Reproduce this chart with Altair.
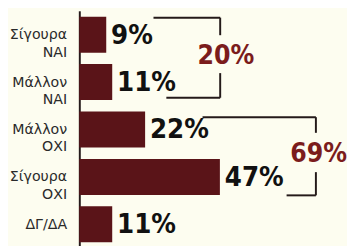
import altair as alt
import pandas as pd

# ---- data ----
categories = ["Σίγουρα ΝΑΙ", "Μάλλον ΝΑΙ", "Μάλλον ΟΧΙ", "Σίγουρα ΟΧΙ", "ΔΓ/ΔΑ"]
values = [9, 11, 22, 47, 11]
value_labels = ["9%", "11%", "22%", "47%", "11%"]

bracket_labels = ["20%", "69%"]
bracket_x = [47.1, 79.1]
bracket_label_x = [49.0, 80.0]
bracket_top = [-0.36, 1.74]
bracket_bottom = [1.33, 3.39]
bracket_top_from = [24.8, 41.2]
bracket_bottom_from = [29.1, 69.3]
bracket_label_y = [0.46, 2.53]
bracket_gap_top = [0.01, 2.07]
bracket_gap_bottom = [0.81, 2.90]

BAR_HALF = 0.38
BG = "#fdfdf0"
BAR = "#5a1418"
RED = "#7b1c1c"
INK = "#241a1a"
LABEL_FONT = "DejaVu Sans Condensed, Roboto Condensed, Roboto, sans-serif"

idx = list(range(len(categories)))
bars = pd.DataFrame({
    "idx": idx,
    "cat": categories,
    "value": values,
    "label": value_labels,
    "y1": [i - BAR_HALF for i in idx],
    "y2": [i + BAR_HALF for i in idx],
})

segs = []
for k in range(len(bracket_labels)):
    bx = bracket_x[k]
    segs.append({"x": bracket_top_from[k], "x2": bx, "y": bracket_top[k], "y2": bracket_top[k]})
    segs.append({"x": bracket_bottom_from[k], "x2": bx, "y": bracket_bottom[k], "y2": bracket_bottom[k]})
    segs.append({"x": bx, "x2": bx, "y": bracket_top[k], "y2": bracket_gap_top[k]})
    segs.append({"x": bx, "x2": bx, "y": bracket_gap_bottom[k], "y2": bracket_bottom[k]})
segs = pd.DataFrame(segs)

blabels = pd.DataFrame({"x": bracket_label_x, "y": bracket_label_y, "label": bracket_labels})

xscale = alt.Scale(domain=[0, 89.5], nice=False, zero=True)
yscale = alt.Scale(domain=[-0.505, 4.505], nice=False, zero=False, reverse=True)

names_js = "[" + ",".join("'" + c + "'" for c in categories) + "]"

bar_layer = alt.Chart(bars).mark_bar(color=BAR).encode(
    x=alt.X("value:Q", scale=xscale, axis=None),
    x2=alt.value(0),
    y=alt.Y("y1:Q", scale=yscale, axis=alt.Axis(
        values=idx, labelExpr="split(" + names_js + "[datum.value], ' ')",
        title=None, ticks=False, grid=False, domain=True,
        domainColor=INK, domainWidth=2, labelPadding=13,
        labelFont="DejaVu Sans", labelFontSize=14.5, labelColor="#2a2a2a",
        labelLineHeight=18, labelBaseline="middle", labelAlign="right",
    )),
    y2="y2:Q",
)

text_layer = alt.Chart(bars).mark_text(
    align="left", baseline="middle", dx=5, dy=1, font=LABEL_FONT,
    fontWeight="bold", fontSize=28, color="#111111",
).encode(
    x=alt.X("value:Q", scale=xscale),
    y=alt.Y("idx:Q", scale=yscale),
    text="label:N",
)

rule_layer = alt.Chart(segs).mark_rule(color=INK, strokeWidth=2).encode(
    x=alt.X("x:Q", scale=xscale),
    x2="x2:Q",
    y=alt.Y("y:Q", scale=yscale),
    y2="y2:Q",
)

blabel_layer = alt.Chart(blabels).mark_text(
    align="center", baseline="middle", font=LABEL_FONT,
    fontWeight="bold", fontSize=27, color=RED,
).encode(
    x=alt.X("x:Q", scale=xscale),
    y=alt.Y("y:Q", scale=yscale),
    text="label:N",
)

chart = alt.layer(bar_layer, text_layer, rule_layer, blabel_layer).properties(
    width=274, height=243,
    background=BG,
    autosize=alt.AutoSizeParams(type="none"),
    padding={"left": 73, "top": 0, "right": 0, "bottom": 0},
).configure_view(stroke=None)

chart.save("out.html", embed_options={"renderer": "svg", "actions": False})
